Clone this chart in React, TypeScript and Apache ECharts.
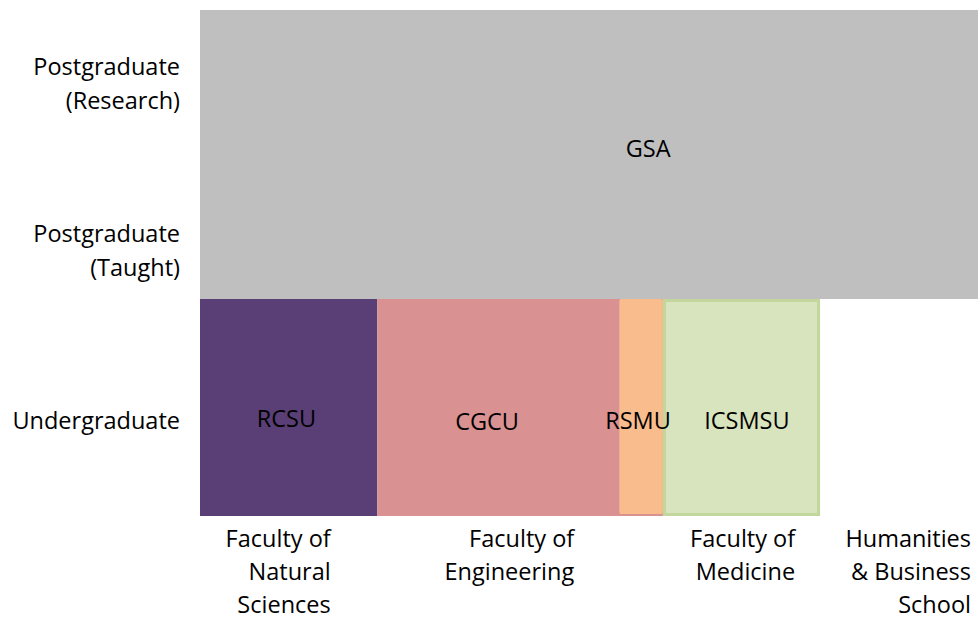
import React, { useEffect, useRef } from "react";
import * as echarts from "echarts";

// Student unions (rectangles) in a 0..100 × 0..100 data space
const unionNames = ["GSA", "RCSU", "CGCU", "RSMU", "ICSMSU"];
const unionXStart = [0, 0, 22.8, 53.9, 59.5];
const unionXEnd = [100, 22.8, 59.5, 59.5, 79.7];
const unionYStart = [42.9, 0, 0, 0.4, 0];
const unionYEnd = [100, 42.9, 42.9, 42.9, 42.9];
const unionLabelX = [57.6, 11.1, 36.9, 56.3, 70.3];
const unionLabelY = [72.7, 19.4, 18.8, 19.0, 19.0];

// Faculty (x) labels: right edge position in data units
const faculties = [
  "Faculty of\nNatural\nSciences",
  "Faculty of\nEngineering",
  "Faculty of\nMedicine",
  "Humanities\n& Business\nSchool",
];
const facultyRightX = [16.8, 48.1, 76.5, 99.1];

// Study level (y) labels: centre position in data units
const levels = ["Postgraduate\n(Research)", "Postgraduate\n(Taught)", "Undergraduate"];
const levelY = [85.6, 52.6, 19.0];

const fills = ["#bfbfbf", "#5a3e76", "#d99191", "#f9bc8c", "#d7e4bd"];
const strokes = [null, null, null, null, "#c3d69b"];
const FONT = '23.5px "Open Sans", sans-serif';

export default function App() {
  const ref = useRef<HTMLDivElement>(null);
  useEffect(() => {
    if (!ref.current) return;
    const chart = echarts.init(ref.current, null, { renderer: "svg" });
    const rectData = unionNames.map((n, i) => ({
      name: n,
      value: [unionXStart[i], unionXEnd[i], unionYStart[i], unionYEnd[i]],
    }));
    const labelData = unionNames.map((n, i) => ({ name: n, value: [unionLabelX[i], unionLabelY[i]] }));
    const facData = faculties.map((n, i) => ({ name: n, value: [facultyRightX[i], 0] }));
    const levelData = levels.map((n, i) => ({ name: n, value: [0, levelY[i]] }));

    chart.setOption({
      animation: false,
      grid: { left: 200, right: 0, top: 10, bottom: 103 },
      xAxis: { type: "value", min: 0, max: 100, show: false },
      yAxis: { type: "value", min: 0, max: 100, show: false },
      series: [
        {
          type: "custom",
          data: rectData,
          renderItem: (params: any, api: any) => {
            const i = params.dataIndex;
            const p0 = api.coord([api.value(0), api.value(3)]);
            const p1 = api.coord([api.value(1), api.value(2)]);
            const s = strokes[i];
            const inset = s ? 1.5 : 0;
            return {
              type: "rect",
              shape: {
                x: p0[0] + inset,
                y: p0[1] + inset,
                width: p1[0] - p0[0] - 2 * inset,
                height: p1[1] - p0[1] - 2 * inset,
                r: i === 3 ? 2 : 0,
              },
              style: s
                ? { fill: fills[i], stroke: s, lineWidth: 3 }
                : { fill: fills[i] },
            };
          },
        },
        {
          type: "custom",
          data: labelData,
          z: 5,
          renderItem: (params: any, api: any) => {
            const p = api.coord([api.value(0), api.value(1)]);
            return {
              type: "text",
              x: p[0],
              y: p[1],
              style: {
                text: unionNames[params.dataIndex],
                font: FONT,
                fill: "#000",
                align: "center",
                verticalAlign: "middle",
              },
            };
          },
        },
        {
          type: "custom",
          data: facData,
          clip: false,
          renderItem: (params: any, api: any) => {
            const p = api.coord([api.value(0), api.value(1)]);
            return {
              type: "text",
              x: p[0],
              y: p[1] + 5,
              style: {
                text: faculties[params.dataIndex],
                font: FONT,
                lineHeight: 33,
                fill: "#000",
                align: "right",
                verticalAlign: "top",
              },
            };
          },
        },
        {
          type: "custom",
          data: levelData,
          clip: false,
          renderItem: (params: any, api: any) => {
            const p = api.coord([api.value(0), api.value(1)]);
            return {
              type: "text",
              x: p[0] - 20,
              y: p[1],
              style: {
                text: levels[params.dataIndex],
                font: FONT,
                lineHeight: 34,
                fill: "#000",
                align: "right",
                verticalAlign: "middle",
              },
            };
          },
        },
      ],
    });
    return () => chart.dispose();
  }, []);
  return (
    <div
      ref={ref}
      style={{ position: "fixed", left: 0, top: 0, width: 978, height: 619, background: "#fff" }}
    />
  );
}
